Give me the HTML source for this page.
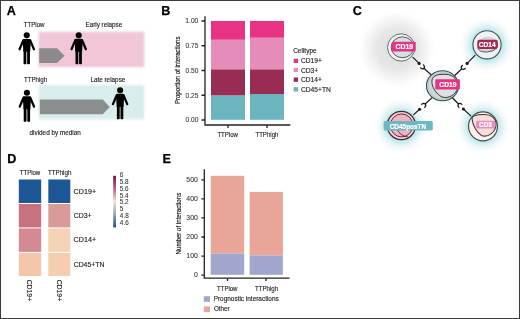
<!DOCTYPE html>
<html><head><meta charset="utf-8">
<style>
html,body{margin:0;padding:0;background:#fff;}
body{width:520px;height:319px;overflow:hidden;position:relative;}
svg{position:absolute;left:0;top:0;display:block;will-change:transform;}
text{font-family:"Liberation Sans",sans-serif;}
.lbl{font-weight:bold;font-size:12.6px;fill:#000;stroke:#000;stroke-width:0.25px;}
.t{fill:#222;stroke:#222;stroke-width:0.14px;}
.tk{fill:#333;stroke:#333;stroke-width:0.08px;}
.ty{fill:#1a1a1a;stroke:#1a1a1a;stroke-width:0.18px;}
.ax{stroke:#222;stroke-width:1.3;fill:none;}
.cl{font-weight:bold;fill:#fff;stroke:#fff;stroke-width:0.22px;}
</style></head>
<body>
<svg width="520" height="319" viewBox="0 0 520 319">
<defs>
  <g id="person">
    <circle cx="0" cy="3.05" r="3.05"/>
    <path d="M-4.1,8 Q-4.1,6.6 -2.7,6.6 H2.7 Q4.1,6.6 4.1,8 L3.4,19.5 H-3.4 Z"/>
    <line x1="-3.4" y1="8" x2="-7.2" y2="17" stroke="#000" stroke-width="2.2" stroke-linecap="round"/>
    <line x1="3.4" y1="8" x2="7.2" y2="17" stroke="#000" stroke-width="2.2" stroke-linecap="round"/>
    <rect x="-3.2" y="17" width="2.8" height="15" rx="0.8"/>
    <rect x="0.4" y="17" width="2.8" height="15" rx="0.8"/>
  </g>
  <filter id="soft" x="-10%" y="-20%" width="120%" height="140%"><feGaussianBlur stdDeviation="0.9"/></filter>
  <radialGradient id="gshadow" cx="0.5" cy="0.5" r="0.5">
    <stop offset="0" stop-color="#d0d0d0" stop-opacity="0.75"/>
    <stop offset="0.5" stop-color="#d4d4d4" stop-opacity="0.58"/>
    <stop offset="0.8" stop-color="#dcdcdc" stop-opacity="0.22"/>
    <stop offset="1" stop-color="#ffffff" stop-opacity="0"/>
  </radialGradient>
  <radialGradient id="tglow" cx="0.5" cy="0.5" r="0.5">
    <stop offset="0.48" stop-color="#b4e2e7" stop-opacity="1"/>
    <stop offset="0.6" stop-color="#c3e8eb" stop-opacity="0.85"/>
    <stop offset="0.78" stop-color="#e0f2f4" stop-opacity="0.55"/>
    <stop offset="1" stop-color="#f4f0f6" stop-opacity="0"/>
  </radialGradient>
  <linearGradient id="cbar" x1="0" y1="0" x2="0" y2="1">
    <stop offset="0" stop-color="#7a0d3f"/>
    <stop offset="0.25" stop-color="#c0607e"/>
    <stop offset="0.5" stop-color="#f6e2d6"/>
    <stop offset="0.75" stop-color="#8da4bd"/>
    <stop offset="1" stop-color="#1f4f7e"/>
  </linearGradient>
</defs>
<rect x="0.5" y="0.5" width="519" height="318" fill="none" stroke="#3c3c3c" stroke-width="1"/>

<text class="lbl" x="6.8" y="15.2">A</text>
<text class="t" x="23.68" y="27.1" style="font-size:7.0px" textLength="20.82" lengthAdjust="spacingAndGlyphs">TTPlow</text>
<text class="t" x="85.5" y="26.9" style="font-size:7.0px" textLength="36.76" lengthAdjust="spacingAndGlyphs">Early relapse</text>
<rect x="38.6" y="31.8" width="105.6" height="35.3" fill="#f0c6d8" filter="url(#soft)"/>
<polygon points="39.2,48.2 57,48.2 64.6,55.65 57,63.1 39.2,63.1" fill="#8b8b8e"/>
<use href="#person" x="26.75" y="32.3"/>
<use href="#person" x="78.7" y="32.2"/>
<text class="t" x="23.88" y="82.4" style="font-size:7.0px" textLength="23.32" lengthAdjust="spacingAndGlyphs">TTPhigh</text>
<text class="t" x="90.39" y="82.2" style="font-size:7.0px" textLength="34.96" lengthAdjust="spacingAndGlyphs">Late relapse</text>
<rect x="38.8" y="85" width="105.4" height="34.4" fill="#d9eeec" filter="url(#soft)"/>
<polygon points="39.8,99.6 102.8,99.6 109.7,106.9 102.8,114.2 39.8,114.2" fill="#8a8f8e"/>
<use href="#person" x="26.9" y="89.7"/>
<use href="#person" x="120.1" y="87.2"/>
<text class="t" x="29.55" y="135" style="font-size:7.0px" textLength="51.17" lengthAdjust="spacingAndGlyphs">divided by median</text>
<text class="lbl" x="161.3" y="15.4">B</text>
<text class="ty" transform="translate(180.3,103.6) rotate(-90)" x="-0.49" y="0" style="font-size:7.7px" textLength="67.58" lengthAdjust="spacingAndGlyphs">Proportion of interactions</text>
<text class="tk" x="185.3" y="23.3" style="font-size:7.0px" textLength="13.05" lengthAdjust="spacingAndGlyphs">1.00</text>
<text class="tk" x="185.54" y="48.05" style="font-size:7.0px" textLength="12.84" lengthAdjust="spacingAndGlyphs">0.75</text>
<text class="tk" x="185.54" y="72.8" style="font-size:7.0px" textLength="12.8" lengthAdjust="spacingAndGlyphs">0.50</text>
<text class="tk" x="185.54" y="97.55" style="font-size:7.0px" textLength="12.84" lengthAdjust="spacingAndGlyphs">0.25</text>
<text class="tk" x="185.54" y="122.3" style="font-size:7.0px" textLength="12.8" lengthAdjust="spacingAndGlyphs">0.00</text>
<rect x="211" y="21" width="34" height="18.8" fill="#e83385"/>
<rect x="211" y="39.8" width="34" height="29.6" fill="#e68cbb"/>
<rect x="211" y="69.4" width="34" height="26.2" fill="#982c55"/>
<rect x="211" y="95.6" width="34" height="24.2" fill="#6ab5be"/>
<rect x="250" y="21" width="34" height="16.8" fill="#e83385"/>
<rect x="250" y="37.8" width="34" height="31.6" fill="#e68cbb"/>
<rect x="250" y="69.4" width="34" height="24.6" fill="#982c55"/>
<rect x="250" y="94" width="34" height="25.8" fill="#6ab5be"/>
<path class="ax" d="M205,16.2 V125 H290.3"/>
<path class="ax" d="M201.5,21 H205 M201.5,45.75 H205 M201.5,70.5 H205 M201.5,95.25 H205 M201.5,120 H205 M228,125 V128 M267,125 V128"/>
<text class="t" x="217.38" y="136.9" style="font-size:7.0px" textLength="20.62" lengthAdjust="spacingAndGlyphs">TTPlow</text>
<text class="t" x="255.48" y="137" style="font-size:7.0px" textLength="22.91" lengthAdjust="spacingAndGlyphs">TTPhigh</text>
<text class="t" x="293.17" y="52.9" style="font-size:7.0px" textLength="23.5" lengthAdjust="spacingAndGlyphs">Celltype</text>
<rect x="293.7" y="58.699999999999996" width="4.4" height="4.3" fill="#e83385"/>
<rect x="293.7" y="67.80000000000001" width="4.4" height="4.3" fill="#e68cbb"/>
<rect x="293.7" y="77.5" width="4.4" height="4.3" fill="#982c55"/>
<rect x="293.7" y="87.2" width="4.4" height="4.3" fill="#6ab5be"/>
<text class="t" x="300.97" y="63" style="font-size:7.0px" textLength="20.97" lengthAdjust="spacingAndGlyphs">CD19+</text>
<text class="t" x="300.97" y="73.1" style="font-size:7.0px" textLength="17.26" lengthAdjust="spacingAndGlyphs">CD3+</text>
<text class="t" x="300.97" y="82.3" style="font-size:7.0px" textLength="20.97" lengthAdjust="spacingAndGlyphs">CD14+</text>
<text class="t" x="300.97" y="92.2" style="font-size:7.0px" textLength="29.87" lengthAdjust="spacingAndGlyphs">CD45+TN</text>
<text class="lbl" x="352.8" y="15.3">C</text>
<!-- ============ PANEL C ============ -->
<circle cx="397" cy="49" r="40" fill="url(#gshadow)"/>
<circle cx="487" cy="45" r="27.5" fill="url(#tglow)"/>
<circle cx="401.2" cy="125.9" r="27.5" fill="url(#tglow)"/>
<circle cx="483" cy="126.4" r="27.5" fill="url(#tglow)"/>
<ellipse cx="442.5" cy="85.8" rx="23" ry="22" fill="url(#tglow)" opacity="0.5"/>
<!-- connecting lines -->
<g stroke="#1a1a1a" stroke-width="1.15" fill="none" stroke-linecap="round">
  <path d="M412.9,57.4 L419.1,63.4"/>
  <path d="M475,55.3 L467.1,63.4"/>
  <path d="M413.7,114.6 L419.6,109.3"/>
  <path d="M470.8,115.8 L463.4,109"/>
</g>
<g fill="#1a1a1a">
  <circle cx="419.1" cy="63.4" r="1.55"/>
  <circle cx="467.1" cy="63.4" r="1.55"/>
  <circle cx="419.6" cy="109.3" r="1.55"/>
  <circle cx="463.4" cy="109" r="1.55"/>
</g>
<!-- receptors -->
<g stroke="#1a1a1a" stroke-width="1.25" fill="none" stroke-linecap="round">
  <g transform="translate(423.1,67.4) rotate(-47)"><path d="M-2.1,-1.5 C-2.1,0.5 -1,1.2 0,1.2 C1,1.2 2.1,0.5 2.1,-1.5 M0,1.2 V13"/></g>
  <g transform="translate(462.7,68) rotate(47)"><path d="M-2.1,-1.5 C-2.1,0.5 -1,1.2 0,1.2 C1,1.2 2.1,0.5 2.1,-1.5 M0,1.2 V12"/></g>
  <g transform="translate(424.3,104.8) rotate(-132.5)"><path d="M-2.1,-1.5 C-2.1,0.5 -1,1.2 0,1.2 C1,1.2 2.1,0.5 2.1,-1.5 M0,1.2 V11"/></g>
  <g transform="translate(459.4,104.8) rotate(135)"><path d="M-2.1,-1.5 C-2.1,0.5 -1,1.2 0,1.2 C1,1.2 2.1,0.5 2.1,-1.5 M0,1.2 V11"/></g>
</g>

<!-- TL cell CD19 -->
<circle cx="401.2" cy="47.5" r="13.7" fill="#edf1f1" stroke="#5b6a6d" stroke-width="0.95"/>
<ellipse cx="402.5" cy="47.3" rx="11.3" ry="10.4" fill="#d9dee0" stroke="#414b4d" stroke-width="0.9"/>
<rect x="391.9" y="41.8" width="23.8" height="9.6" rx="0.8" fill="#e83385"/>

<!-- TR cell CD14 -->
<circle cx="487" cy="44.8" r="14.1" fill="#eef1f1" stroke="#3d5558" stroke-width="1.1"/>
<ellipse cx="487.8" cy="44.4" rx="10.6" ry="7.6" fill="#d3d4d6"/>
<path d="M477.6,47.5 Q479,52.5 487.5,52 Q494,51.5 497.2,47.5" fill="none" stroke="#3d4749" stroke-width="0.9"/>
<rect x="477.3" y="39.7" width="20.6" height="9.2" rx="2.4" fill="#9c2c56"/>

<!-- Center cell CD19 -->
<ellipse cx="442.5" cy="85.8" rx="16" ry="15" fill="#d0d5d6" stroke="#3e4a4c" stroke-width="1.1"/>
<ellipse cx="442.5" cy="85.8" rx="14.6" ry="13.6" fill="none" stroke="#a9c9cc" stroke-width="0.7"/>
<path d="M432,80 C431,86 436,94 442,97 C448,99 456,95 457.5,88 C459,80 453,74.5 446,74.3 C439,74 433,75 432,80 Z" fill="#dde1e2" stroke="#2f3a3c" stroke-width="1"/>
<rect x="435.3" y="79.3" width="24.6" height="10.1" rx="0.8" fill="#e83385"/>

<!-- BL cell CD45posTN -->
<circle cx="401.4" cy="125.5" r="14.1" fill="#f6d4db" stroke="#3a3034" stroke-width="1.25"/>
<ellipse cx="401.6" cy="125.4" rx="11.3" ry="11.5" fill="#efb3c2" stroke="#5e2638" stroke-width="1"/>
<path d="M397,129 Q400,136 408,137" fill="none" stroke="#5e2638" stroke-width="0.9"/>
<rect x="383.6" y="121.1" width="49.2" height="9.5" rx="1.5" fill="#6db8c0"/>

<!-- BR cell CD3 -->
<circle cx="483" cy="126.3" r="14.5" fill="#fcefe8" stroke="#3b5256" stroke-width="1.15"/>
<path d="M472,118.5 C472.5,125 477,133 481.5,135.5 C488,138 495.5,132 496,125 C496.5,118 491,114.5 484,114.6 C478,114.7 472,115 472,118.5 Z" fill="#f9ddd8" stroke="#3f3539" stroke-width="1.05"/>
<rect x="476" y="120.8" width="19.4" height="7.7" rx="1.8" fill="#e78ebe"/>


<text class="cl" x="395.42" y="48.9" style="font-size:7.0px" textLength="17.73" lengthAdjust="spacingAndGlyphs">CD19</text>
<text class="cl" x="478.74" y="47.3" style="font-size:7.0px" textLength="16.91" lengthAdjust="spacingAndGlyphs">CD14</text>
<text class="cl" x="439.33" y="86.6" style="font-size:7.0px" textLength="17.01" lengthAdjust="spacingAndGlyphs">CD19</text>
<text class="cl" x="389.74" y="128.8" style="font-size:7.0px" textLength="36.39" lengthAdjust="spacingAndGlyphs">CD45posTN</text>
<text class="cl" x="479.04" y="127.2" style="font-size:7.0px" textLength="12.78" lengthAdjust="spacingAndGlyphs">CD3</text>
<text class="lbl" x="7.2" y="162.6">D</text>
<text class="t" x="19.78" y="174.9" style="font-size:7.0px" textLength="20.42" lengthAdjust="spacingAndGlyphs">TTPlow</text>
<text class="t" x="47.88" y="174.8" style="font-size:7.0px" textLength="23.53" lengthAdjust="spacingAndGlyphs">TTPhigh</text>
<rect x="18.8" y="179.5" width="22.4" height="23.5" fill="#1d5795"/>
<rect x="48.3" y="179.5" width="22" height="23.5" fill="#1d5795"/>
<rect x="18.8" y="204" width="22.4" height="23.4" fill="#c7707e"/>
<rect x="48.3" y="204" width="22" height="23.4" fill="#d99b99"/>
<rect x="18.8" y="228.4" width="22.4" height="23.5" fill="#d38a92"/>
<rect x="48.3" y="228.4" width="22" height="23.5" fill="#f7d3b5"/>
<rect x="18.8" y="252.9" width="22.4" height="23.2" fill="#f4c7aa"/>
<rect x="48.3" y="252.9" width="22" height="23.2" fill="#f6ceaf"/>
<text class="t" x="73.64" y="193.5" style="font-size:7.0px" textLength="22.42" lengthAdjust="spacingAndGlyphs">CD19+</text>
<text class="t" x="73.65" y="218" style="font-size:7.0px" textLength="17.99" lengthAdjust="spacingAndGlyphs">CD3+</text>
<text class="t" x="73.64" y="242.2" style="font-size:7.0px" textLength="22.52" lengthAdjust="spacingAndGlyphs">CD14+</text>
<text class="t" x="73.66" y="266.8" style="font-size:7.0px" textLength="30.82" lengthAdjust="spacingAndGlyphs">CD45+TN</text>
<text class="t" transform="translate(27.4,280) rotate(90)" x="-0.34" y="0" style="font-size:7.0px" textLength="21.49" lengthAdjust="spacingAndGlyphs">CD19+</text>
<text class="t" transform="translate(56.8,280) rotate(90)" x="-0.34" y="0" style="font-size:7.0px" textLength="21.49" lengthAdjust="spacingAndGlyphs">CD19+</text>
<rect x="113.2" y="175.8" width="2.8" height="51.6" fill="url(#cbar)"/>
<text class="tk" x="119.68" y="176.8" style="font-size:6.3px" textLength="3.52" lengthAdjust="spacingAndGlyphs">6</text>
<text class="tk" x="119.75" y="183.7" style="font-size:6.3px" textLength="8.81" lengthAdjust="spacingAndGlyphs">5.8</text>
<text class="tk" x="119.75" y="190.6" style="font-size:6.3px" textLength="8.81" lengthAdjust="spacingAndGlyphs">5.6</text>
<text class="tk" x="119.75" y="197.5" style="font-size:6.3px" textLength="8.81" lengthAdjust="spacingAndGlyphs">5.4</text>
<text class="tk" x="119.75" y="204.4" style="font-size:6.3px" textLength="8.81" lengthAdjust="spacingAndGlyphs">5.2</text>
<text class="tk" x="119.75" y="211.3" style="font-size:6.3px" textLength="3.52" lengthAdjust="spacingAndGlyphs">5</text>
<text class="tk" x="119.87" y="218.2" style="font-size:6.3px" textLength="8.81" lengthAdjust="spacingAndGlyphs">4.8</text>
<text class="tk" x="119.87" y="225.1" style="font-size:6.3px" textLength="8.81" lengthAdjust="spacingAndGlyphs">4.6</text>
<text class="lbl" x="162.5" y="162.6">E</text>
<text class="ty" transform="translate(180.8,253.9) rotate(-90)" x="-0.49" y="0" style="font-size:7.7px" textLength="61.61" lengthAdjust="spacingAndGlyphs">Number of interactions</text>
<text class="tk" x="186.33" y="182.1" style="font-size:7.0px" textLength="11.44" lengthAdjust="spacingAndGlyphs">500</text>
<text class="tk" x="186.33" y="201.16" style="font-size:7.0px" textLength="11.44" lengthAdjust="spacingAndGlyphs">400</text>
<text class="tk" x="186.33" y="220.22" style="font-size:7.0px" textLength="11.44" lengthAdjust="spacingAndGlyphs">300</text>
<text class="tk" x="186.33" y="239.28" style="font-size:7.0px" textLength="11.44" lengthAdjust="spacingAndGlyphs">200</text>
<text class="tk" x="186.33" y="258.34" style="font-size:7.0px" textLength="11.44" lengthAdjust="spacingAndGlyphs">100</text>
<text class="tk" x="193.94" y="277.4" style="font-size:7.0px" textLength="3.81" lengthAdjust="spacingAndGlyphs">0</text>
<rect x="210.7" y="175.8" width="33.5" height="77.8" fill="#e8a598"/>
<rect x="210.7" y="253.6" width="33.5" height="21.2" fill="#a0a6cc"/>
<rect x="249.6" y="191.9" width="33.3" height="63.6" fill="#e8a598"/>
<rect x="249.6" y="255.5" width="33.3" height="19.3" fill="#a0a6cc"/>
<path class="ax" d="M204.3,169.2 V278.2 H289.6"/>
<path class="ax" d="M201.4,179.8 H204.3 M201.4,198.86 H204.3 M201.4,217.92 H204.3 M201.4,236.98 H204.3 M201.4,256.04 H204.3 M201.4,275.1 H204.3 M227.5,278.2 V281 M266,278.2 V281"/>
<text class="t" x="217.08" y="290.5" style="font-size:7.0px" textLength="20.32" lengthAdjust="spacingAndGlyphs">TTPlow</text>
<text class="t" x="254.88" y="290.5" style="font-size:7.0px" textLength="23.22" lengthAdjust="spacingAndGlyphs">TTPhigh</text>
<rect x="203.8" y="296.2" width="6.2" height="5.6" fill="#a0a6cc"/>
<rect x="203.8" y="306.4" width="6.2" height="5.8" fill="#e8a598"/>
<text class="t" x="213.69" y="300.8" style="font-size:7.0px" textLength="65.05" lengthAdjust="spacingAndGlyphs">Prognostic interactions</text>
<text class="t" x="213.92" y="311.1" style="font-size:7.0px" textLength="15.68" lengthAdjust="spacingAndGlyphs">Other</text>
</svg>
</body></html>
